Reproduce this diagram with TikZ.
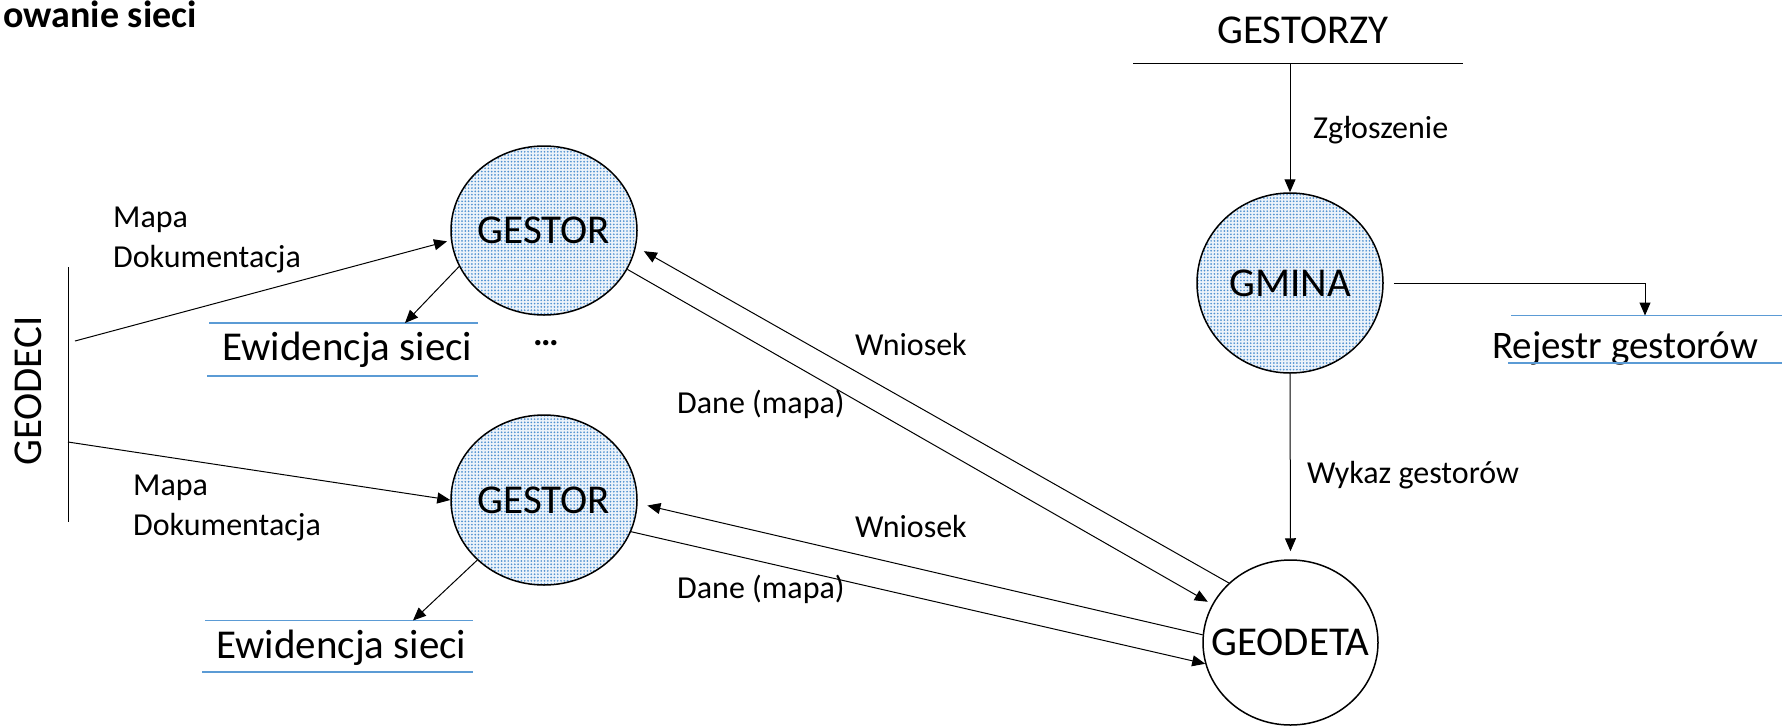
\documentclass[tikz,border=0pt]{standalone}
\usepackage{fontspec}
\setmainfont{Carlito}
\usetikzlibrary{arrows.meta,shapes.geometric,patterns.meta,calc}
\definecolor{storeblue}{RGB}{91,155,213}
\definecolor{dotblue}{RGB}{80,145,208}
\tikzset{
  big/.style={font=\fontsize{41}{49}\selectfont},
  lbl/.style={font=\fontsize{32}{38}\selectfont, anchor=base west, inner sep=0pt},
  proc/.style={ellipse, draw=black, line width=1.5pt, inner sep=0pt,
    preaction={fill={rgb,255:red,236;green,243;blue,250}}, pattern={Dots[distance=3.3pt,radius=0.95pt]}, pattern color=dotblue},
  ext/.style={ellipse, draw=black, line width=1.5pt, inner sep=0pt, fill=white},
  flow/.style={line width=1pt, -{Triangle[length=13pt,width=11pt]}},
  plain/.style={line width=1pt},
  storeline/.style={storeblue, line width=1.2pt},
}
\begin{document}
\begin{tikzpicture}[x=1pt,y=-1pt]
\useasboundingbox (0,0) rectangle (1782,726);
\fill[white] (0,0) rectangle (1782,726);

% title
\node[anchor=base east, inner sep=0pt, font=\bfseries\fontsize{38}{46}\selectfont] (title) at (197,27) {owanie sieci};

% processes
\node[proc, minimum width=186pt, minimum height=169pt, label={[big]center:GESTOR}] (g1) at (544,230.5) {};
\node[proc, minimum width=186pt, minimum height=170pt, label={[big]center:GESTOR}] (g2) at (544,500) {};
\node[proc, minimum width=186pt, minimum height=180pt, label={[big]center:GMINA}] (gmina) at (1290,283) {};
\node[ext, minimum width=175pt, minimum height=165pt, label={[big]center:GEODETA}] (geodeta) at (1290.5,642.5) {};

% GEODECI terminator
\node[big, rotate=90] (gd) at (28,391) {GEODECI};
\coordinate (gdtop) at (68,267);
\coordinate (gdbot) at (68,522);
\draw[plain] (gdtop) -- (gdbot);
\coordinate (gd1) at (75,341);
\coordinate (gd2) at (68,442);

% GESTORZY terminator
\node[big] (gz) at (1303,30) {GESTORZY};
\coordinate (gzl) at (1133,63);
\coordinate (gzr) at (1463,63);
\draw[plain] (gzl) -- (gzr);
\coordinate (gzin) at (1290,63);

% data stores
\node[big, anchor=base west, inner sep=0pt] (ew1) at (222,360) {Ewidencja sieci};
\coordinate (e1a) at (209,323); \coordinate (e1b) at (478,323);
\coordinate (e1c) at (207,376); \coordinate (e1d) at (478,376);
\draw[storeline] (e1a) -- (e1b);
\draw[storeline] (e1c) -- (e1d);
\coordinate (e1in) at (405,323);

\node[big, anchor=base west, inner sep=0pt] (ew2) at (216,658) {Ewidencja sieci};
\coordinate (e2a) at (205,620.5); \coordinate (e2b) at (473,620.5);
\coordinate (e2c) at (202,672); \coordinate (e2d) at (473,672);
\draw[storeline] (e2a) -- (e2b);
\draw[storeline] (e2c) -- (e2d);
\coordinate (e2in) at (413,620.5);

\node[font=\fontsize{39}{47}\selectfont, anchor=base west, inner sep=0pt] (rej) at (1492,358) {Rejestr gestorów};
\coordinate (ra) at (1511,315.5); \coordinate (rb) at (1782,315.5);
\coordinate (rc) at (1508,363); \coordinate (rd) at (1782,363);
\draw[storeline] (ra) -- (rb);
\draw[storeline] (rc) -- (rd);
\coordinate (rejin) at (1645,315.5);

% labels
\node[lbl] (m1) at (113,227) {Mapa};
\node[lbl] (d1) at (113,267) {Dokumentacja};
\node[lbl] (m2) at (133,495) {Mapa};
\node[lbl] (d2) at (133,535) {Dokumentacja};
\node[lbl] (w1) at (855,355) {Wniosek};
\node[lbl] (dm1) at (677,413) {Dane (mapa)};
\node[lbl] (w2) at (855,537) {Wniosek};
\node[lbl] (dm2) at (677,598) {Dane (mapa)};
\node[lbl] (zg) at (1313,138) {Zgłoszenie};
\node[lbl] (wy) at (1307,483) {Wykaz gestorów};
\node[font=\bfseries\fontsize{36}{42}\selectfont, anchor=base west, inner sep=0pt] (dots) at (533,345) {…};

% connectors
\draw[flow, shorten >=4pt] (gd1) -- (g1.186.8);
\draw[flow] (gd2) -- (g2.180);
\draw[flow] (g1.203.6) -- (e1in);
\draw[flow] (g2.222.8) -- (e2in);
\draw[flow, shorten >=9pt] (geodeta.136.9) -- (g1.350.2);
\draw[flow, shorten >=5pt] (g1.335.2) -- (geodeta.154.7);
\draw[flow, shorten >=10pt] (geodeta.175.2) -- (g2.358.3);
\draw[flow] (g2.340.6) -- (geodeta.194);
\draw[flow] (gzin) -- (gmina.north);
\draw[flow, shorten >=8pt] (gmina.south) -- (geodeta.north);
\draw[flow] ([xshift=10pt]gmina.east) -| (rejin);
\end{tikzpicture}
\end{document}
